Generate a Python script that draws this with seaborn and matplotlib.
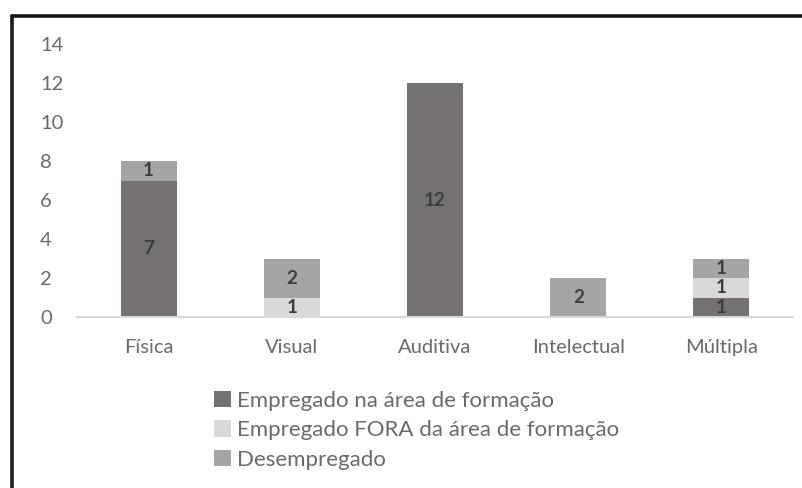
import pandas as pd
import seaborn as sns
from matplotlib import pyplot
from matplotlib.lines import Line2D
from matplotlib.patches import Patch

# data
categorias = ["Física", "Visual", "Auditiva", "Intelectual", "Múltipla"]
empregado_area = [7, 0, 12, 0, 1]
empregado_fora = [0, 1, 0, 0, 1]
desempregado = [1, 2, 0, 2, 1]
series_names = ["Empregado na área de formação",
                "Empregado FORA da área de formação",
                "Desempregado"]
series_colors = ["#757171", "#d9d9d9", "#a5a5a5"]
yticks = [0, 2, 4, 6, 8, 10, 12, 14]

sns.set_style("white")
pyplot.rcParams['font.family'] = ['Lato', 'DejaVu Sans']
text_gray = "#6a6a6a"

df = pd.DataFrame({"categoria": categorias,
                   series_names[0]: empregado_area,
                   series_names[1]: empregado_fora,
                   series_names[2]: desempregado})

fig = pyplot.figure(figsize=(8.03, 4.88), dpi=100)
ax = fig.add_axes([77/803, 1-317/488, 716/803, (317-44)/488])

bottom = [0] * len(categorias)
for name, col in zip(series_names, series_colors):
    sns.barplot(data=df, x="categoria", y=name, color=col, saturation=1,
                width=0.39, bottom=bottom, ax=ax, linewidth=0)
    bottom = [b + v for b, v in zip(bottom, df[name])]

for cont, name in zip(ax.containers, series_names):
    labels = [str(v) if v else "" for v in df[name]]
    ax.bar_label(cont, labels=labels, label_type="center", fontsize=13.5,
                 fontweight="bold", color="#3d3d3d")

ax.set_ylim(0, 14)
ax.set_xlim(-0.5, len(categorias) - 0.5)
ax.set_yticks(yticks)
ax.set_xlabel("")
ax.set_ylabel("")
for s in ["left", "top", "right"]:
    ax.spines[s].set_visible(False)
ax.spines["bottom"].set_color("#d9d9d9")
ax.spines["bottom"].set_linewidth(1.5)

ax.set_xticks([i - 0.5 for i in range(len(categorias) + 1)], minor=True)
ax.tick_params(axis="x", which="minor", length=7, width=1.5, color="#d9d9d9")
ax.tick_params(axis="x", which="major", length=0, pad=15.5,
               labelsize=14.5, labelcolor=text_gray)
ax.tick_params(axis="y", length=0, pad=26.5, labelsize=14.5,
               labelcolor=text_gray)
for lab in ax.get_yticklabels():
    lab.set_horizontalalignment("left")

handles = [Patch(facecolor=c, edgecolor="none") for c in series_colors]
fig.legend(handles, series_names, loc="upper left",
           bbox_to_anchor=(214/803, 1-391/488), frameon=False,
           fontsize=16, labelcolor=text_gray, handlelength=0.75,
           handleheight=0.75, handletextpad=0.3, labelspacing=0.42,
           borderpad=0, borderaxespad=0)

# outer frame (left and top edges visible in the original)
fig.add_artist(Line2D([12/803, 12/803], [0, 1-16/488], transform=fig.transFigure,
                      color="#1a1a1a", linewidth=2.6))
fig.add_artist(Line2D([12/803, 1], [1-16/488, 1-16/488], transform=fig.transFigure,
                      color="#1a1a1a", linewidth=2.6))

pyplot.savefig("out.png", dpi=100)
